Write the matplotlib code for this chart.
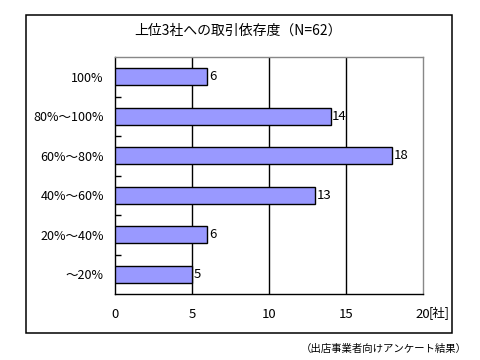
import matplotlib.pyplot as plt
import numpy as np
from matplotlib.patches import Rectangle

plt.rcParams['font.family'] = ['Noto Sans CJK JP', 'DejaVu Sans']

## data -----
categories = ['100%', '80%～100%', '60%～80%', '40%～60%', '20%～40%', '～20%']
values = [6, 14, 18, 13, 6, 5]
x_ticks = [0, 5, 10, 15, 20]
title = '上位3社への取引依存度（N=62）'
source = '（出店事業者向けアンケート結果）'

## figure -----
fig = plt.figure(figsize=(4.8, 3.6), dpi=100, facecolor='white')

# outer frame around the chart
fig.patches.append(Rectangle((26/480, 1-333/360), (452-26)/480, (333-15)/360,
                             transform=fig.transFigure, fill=False,
                             edgecolor='black', linewidth=1.1))

ax = fig.add_axes([115/480, 1-294/360, (423-115)/480, (294-57)/360])
y = np.arange(len(categories))[::-1]
ax.barh(y, values, height=0.43, color='#9999FF', edgecolor='black', linewidth=1.0, zorder=3)

for yi, v in zip(y, values):
    ax.text(v + 0.1, yi, str(v), va='center', ha='left', fontsize=9.5)

ax.set_xlim(0, 20)
ax.set_ylim(-0.5, len(categories) - 0.5)
ax.set_xticks(x_ticks)
ax.set_xticklabels([str(t) for t in x_ticks], fontsize=9.5)
ax.tick_params(axis='x', length=0, pad=10)
ax.set_yticks(y)
ax.set_yticklabels(categories, fontsize=9)
ax.tick_params(axis='y', which='major', length=0, pad=8)
ax.set_yticks(np.arange(len(categories) - 1) + 0.5, minor=True)
ax.tick_params(axis='y', which='minor', direction='in', length=4, width=1)

for t in x_ticks[1:-1]:
    ax.axvline(t, color='black', linewidth=1.0, zorder=1)

ax.spines['left'].set_color('black')
ax.spines['bottom'].set_color('black')
ax.spines['top'].set_color('#888888')
ax.spines['right'].set_color('#888888')
for s in ax.spines.values():
    s.set_linewidth(1.0)

fig.text(429/480, 1-313/360, '[社]', fontsize=9, ha='left', va='center')
fig.text(238/480, 1-31/360, title, fontsize=10, ha='center', va='center')
fig.text(467/480, 1-349/360, source, fontsize=7.5, ha='right', va='center')

fig.savefig('out.png', dpi=100, facecolor='white')
